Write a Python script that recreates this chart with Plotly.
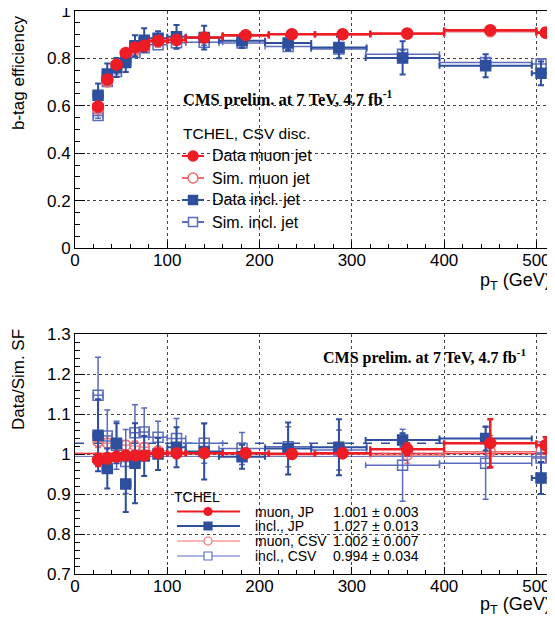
import plotly.graph_objects as go

# ---------------- data ----------------
pt = [25, 35, 45, 55, 65, 75, 90, 110, 140, 185, 235, 290, 360, 450, 510]
pt_half = [5, 5, 5, 5, 5, 5, 10, 10, 20, 25, 25, 30, 40, 50, 10]
pt_incl = [25, 35, 45, 55, 65, 75, 90, 110, 140, 181, 231, 286, 355, 445, 505]

# top panel: b-tag efficiency
eff_data_mu = [0.597, 0.711, 0.774, 0.823, 0.846, 0.853, 0.874, 0.878, 0.888, 0.898, 0.902, 0.902, 0.905, 0.919, 0.909]
err_data_mu = [0.012, 0.010, 0.010, 0.008, 0.008, 0.008, 0.007, 0.007, 0.007, 0.008, 0.008, 0.009, 0.010, 0.012, 0.018]
eff_sim_mu = [0.585, 0.700, 0.760, 0.812, 0.835, 0.845, 0.868, 0.876, 0.886, 0.895, 0.902, 0.900, 0.902, 0.912, 0.905]
err_sim_mu = [0.008, 0.007, 0.006, 0.006, 0.006, 0.006, 0.005, 0.005, 0.005, 0.006, 0.006, 0.007, 0.008, 0.010, 0.015]
eff_data_incl = [0.644, 0.734, 0.762, 0.783, 0.853, 0.877, 0.885, 0.891, 0.888, 0.874, 0.865, 0.846, 0.802, 0.769, 0.737]
err_data_incl = [0.050, 0.044, 0.040, 0.040, 0.045, 0.050, 0.030, 0.050, 0.050, 0.030, 0.030, 0.045, 0.070, 0.049, 0.050]
eff_sim_incl = [0.559, 0.703, 0.745, 0.805, 0.825, 0.845, 0.858, 0.866, 0.868, 0.865, 0.850, 0.840, 0.818, 0.783, 0.776]
err_sim_incl = [0.012, 0.010, 0.010, 0.010, 0.010, 0.010, 0.010, 0.010, 0.012, 0.012, 0.012, 0.015, 0.015, 0.015, 0.020]

# bottom panel: data/sim scale factors
sf_mu_jp = [0.985, 0.989, 0.993, 0.996, 0.996, 0.996, 1.002, 1.002, 1.002, 1.002, 1.000, 1.002, 1.012, 1.027, 1.022]
err_mu_jp = [0.015, 0.012, 0.010, 0.010, 0.010, 0.009, 0.008, 0.008, 0.008, 0.008, 0.010, 0.010, 0.015, 0.060, 0.020]
sf_incl_jp = [1.047, 0.964, 1.027, 0.925, 0.977, 0.995, 1.000, 1.017, 1.006, 0.993, 1.014, 1.017, 1.035, 1.039, 0.940]
err_incl_jp = [0.090, 0.050, 0.050, 0.070, 0.100, 0.050, 0.040, 0.050, 0.070, 0.030, 0.065, 0.070, 0.017, 0.030, 0.040]
sf_mu_csv = [1.031, 1.027, 1.022, 1.022, 1.020, 1.017, 1.008, 1.005, 1.003, 1.002, 1.000, 1.000, 0.997, 1.006, 1.000]
err_mu_csv = [0.015, 0.012, 0.012, 0.012, 0.012, 0.010, 0.010, 0.010, 0.010, 0.010, 0.010, 0.010, 0.020, 0.040, 0.020]
sf_incl_csv = [1.147, 1.045, 1.022, 0.981, 1.053, 1.055, 1.042, 1.039, 1.027, 1.014, 1.018, 1.010, 0.972, 0.977, 0.990]
err_incl_csv = [0.095, 0.065, 0.060, 0.080, 0.070, 0.060, 0.040, 0.050, 0.050, 0.040, 0.050, 0.050, 0.090, 0.090, 0.040]

fit_names = ["muon, JP", "incl., JP", "muon, CSV", "incl., CSV"]
fit_values = [1.001, 1.027, 1.002, 0.994]
fit_errors = [0.003, 0.013, 0.007, 0.034]

top_legend_title = "TCHEL, CSV disc."
top_legend_names = ["Data muon jet", "Sim. muon jet", "Data incl. jet", "Sim. incl. jet"]
bottom_legend_title = "TCHEL"

# ---------------- styles ----------------
RED = "#ee1c24"
BLUE = "#2e4e9e"
PINK = "#f26d6d"
LBLUE = "#5b6cbd"
FONT = "Liberation Sans"

# plot area in screen pixels (page has an 8px body margin)
PX0, PX1, PY0, PY1 = 75.0, 553.0, 11.0, 574.0


def px(x):
    return (x - PX0) / (PX1 - PX0)


def py(y):
    return 1 - (y - PY0) / (PY1 - PY0)


fig = go.Figure()


def add(x, y, ey, color, symbol, size, xa, ya, thick=1.5, lw=1.5):
    fig.add_trace(go.Scatter(
        x=x, y=y, mode="markers", xaxis=xa, yaxis=ya, showlegend=False,
        marker=dict(color=color, symbol=symbol, size=size, line=dict(color=color, width=lw)),
        error_y=dict(type="data", array=ey, color=color, thickness=thick, width=3),
        error_x=dict(type="data", array=pt_half, color=color, thickness=thick, width=3),
    ))


# top panel
add(pt_incl, eff_sim_incl, err_sim_incl, LBLUE, "square-open", 10, "x", "y", thick=1.5)
add(pt, eff_sim_mu, err_sim_mu, PINK, "circle-open", 10, "x", "y", thick=1.5)
add(pt_incl, eff_data_incl, err_data_incl, BLUE, "square", 10, "x", "y", thick=2)
add(pt, eff_data_mu, err_data_mu, RED, "circle", 11, "x", "y", thick=2.5)

# bottom panel
add(pt, sf_mu_csv, err_mu_csv, PINK, "circle-open", 10, "x2", "y2", thick=1.2)
add(pt_incl, sf_incl_csv, err_incl_csv, LBLUE, "square-open", 10, "x2", "y2", thick=1.5)
add(pt_incl, sf_incl_jp, err_incl_jp, BLUE, "square", 10, "x2", "y2", thick=2)
add(pt, sf_mu_jp, err_mu_jp, RED, "circle", 11, "x2", "y2", thick=2.5)

shapes = []
# fit lines in bottom panel
fit_line_styles = [(RED, "solid", 1.5), (BLUE, "dash", 1.5), (PINK, "dash", 1), (LBLUE, "solid", 1)]
for v, (c, d, w) in zip(fit_values, fit_line_styles):
    shapes.append(dict(type="line", xref="x2 domain", yref="y2", x0=0, x1=1, y0=v, y1=v,
                       line=dict(color=c, dash=d, width=w), layer="below"))

annotations = []


def glyph(cx, cy, kind, color, filled, size, lw=1.5):
    shapes.append(dict(type="circle" if kind == "circle" else "rect", xref="paper", yref="paper",
                       xsizemode="pixel", ysizemode="pixel", xanchor=px(cx), yanchor=py(cy),
                       x0=-size / 2, x1=size / 2, y0=-size / 2, y1=size / 2,
                       fillcolor=color if filled else "white", line=dict(color=color, width=lw)))


def text(t, x, y, size, xanchor="left", family=FONT, **kw):
    annotations.append(dict(text=t, xref="paper", yref="paper", x=x, y=y, xanchor=xanchor,
                            yanchor="middle", showarrow=False,
                            font=dict(family=family, size=size, color="black"), **kw))


# ---- top legend (manual, ROOT-like) ----
text(top_legend_title, px(181), py(133), 15.5)
top_rows = [156, 178, 200, 222]
top_glyphs = [(RED, "circle", True), (PINK, "circle", False), (BLUE, "rect", True), (LBLUE, "rect", False)]
for name, yy, (c, k, f) in zip(top_legend_names, top_rows, top_glyphs):
    shapes.append(dict(type="line", xref="paper", yref="paper", x0=px(182), x1=px(204), y0=py(yy), y1=py(yy),
                       line=dict(color=c, width=2)))
    glyph(193, yy, k, c, f, 10 if k == "circle" else 9)
    text(name, px(210), py(yy), 16)

# ---- bottom legend (manual, ROOT-like) ----
text(bottom_legend_title, px(172), py(497), 14)
bot_rows = [511.5, 526, 541, 556]
bot_glyphs = [(RED, "circle", True, 2), (BLUE, "rect", True, 2), (PINK, "circle", False, 1.2), (LBLUE, "rect", False, 1.2)]
for name, v, e, yy, (c, k, f, lw) in zip(fit_names, fit_values, fit_errors, bot_rows, bot_glyphs):
    shapes.append(dict(type="line", xref="paper", yref="paper", x0=px(177), x1=px(240), y0=py(yy), y1=py(yy),
                       line=dict(color=c, width=lw)))
    glyph(208, yy, k, c, f, 8, lw=1.2)
    text(name, px(253), py(yy), 14)
    text(f"{v:.3f} ± {e:.3f}", px(331), py(yy), 14)

# ---- other texts ----
text("<b>CMS prelim. at 7 TeV, 4.7 fb<sup>-1</sup></b>", px(288), py(98), 16.5, xanchor="center",
     family="Liberation Serif")
text("<b>CMS prelim. at 7 TeV, 4.7 fb<sup>-1</sup></b>", px(424.5), py(356.5), 16, xanchor="center",
     family="Liberation Serif")
text("b-tag efficiency", px(18), py(73), 17, xanchor="center", textangle=-90)
text("Data/Sim. SF", px(18), py(380), 17, xanchor="center", textangle=-90)
text("p<sub>T</sub> (GeV)", 1.0, py(281), 18, xanchor="right")
text("p<sub>T</sub> (GeV)", 1.0, py(605), 18, xanchor="right")

xcommon = dict(range=[0, 518], showline=True, linecolor="black", linewidth=1, mirror=True,
               ticks="inside", ticklen=7, tickcolor="black", dtick=100, tick0=0, automargin=False,
               ticklabeloverflow="allow", ticklabelstandoff=-3,
               showgrid=True, gridcolor="#444", griddash="dot", gridwidth=1, zeroline=False,
               minor=dict(ticks="inside", ticklen=4, dtick=20, tickcolor="black", showgrid=False),
               tickfont=dict(family=FONT, size=17, color="black"))
ycommon = dict(showline=True, linecolor="black", linewidth=1, mirror=True, automargin=False,
               ticklabeloverflow="allow",
               ticks="inside", ticklen=10, tickcolor="black",
               showgrid=True, gridcolor="#444", griddash="dot", gridwidth=1, zeroline=False,
               tickfont=dict(family=FONT, size=17, color="black"))

fig.update_layout(
    width=547, height=611,
    margin=dict(l=67, r=2, t=3, b=45),
    paper_bgcolor="white", plot_bgcolor="white",
    showlegend=False,
    xaxis=dict(xcommon, domain=[0, 1], anchor="y"),
    yaxis=dict(ycommon, domain=[py(248), 1.0], anchor="x", range=[0, 1.0], dtick=0.2,
               minor=dict(ticks="inside", ticklen=5, dtick=0.05, tickcolor="black", showgrid=False)),
    xaxis2=dict(xcommon, domain=[0, 1], anchor="y2"),
    yaxis2=dict(ycommon, domain=[0, py(334)], anchor="x2", range=[0.7, 1.3], dtick=0.1,
                tickformat="~g",
                minor=dict(ticks="inside", ticklen=5, dtick=0.02, tickcolor="black", showgrid=False)),
    shapes=shapes,
    annotations=annotations,
)

fig.write_html("out.html")
